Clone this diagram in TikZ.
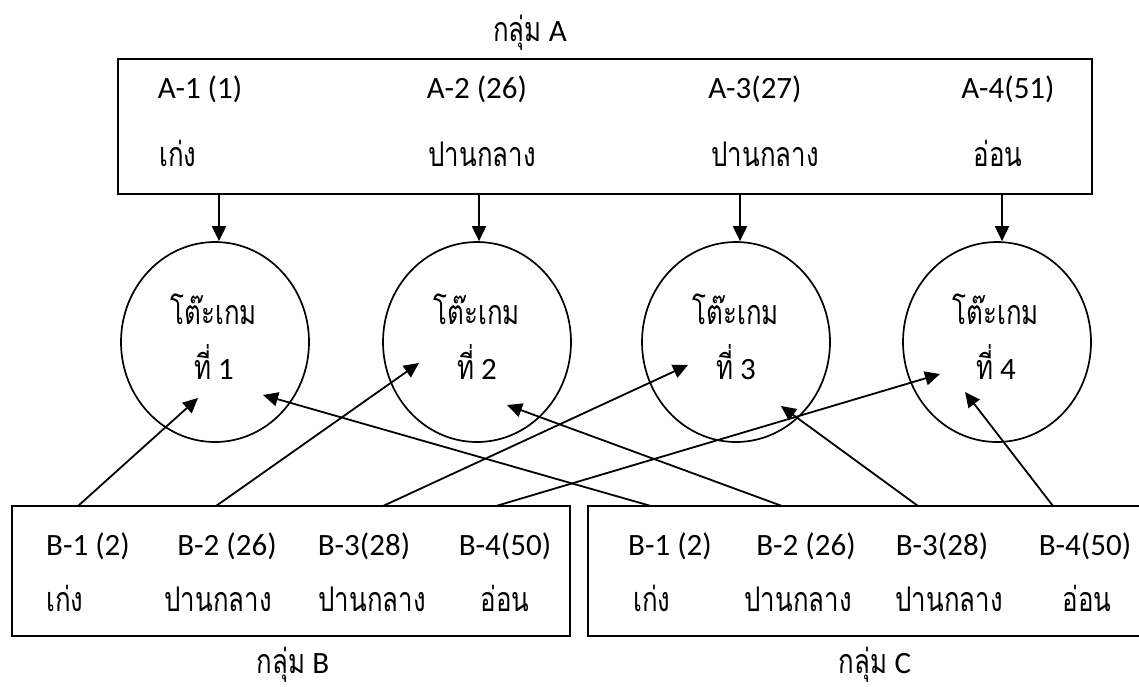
\documentclass[tikz,border=0pt]{standalone}
\usepackage{fontspec}
\setmainfont{Carlito}
\newfontfamily\thaifont[Script=Thai,FakeStretch=0.76]{Loma}
\usetikzlibrary{arrows.meta,shapes.geometric}

\newcommand\thaitext[1]{{\thaifont\fontsize{34}{38}\selectfont #1}}

\begin{document}
\begin{tikzpicture}[x=1pt,y=-1pt,
  lbl/.style={inner sep=0pt, anchor=base, font=\fontsize{31}{36}\selectfont},
  grpbox/.style={draw, line width=2pt},
  gametable/.style={draw, ellipse, line width=1.7pt, minimum width=188pt,
                    minimum height=200pt, inner sep=0pt},
  link/.style={line width=1.8pt, -{Triangle[length=15pt,width=14pt]}}
]
\useasboundingbox (0,0) rectangle (1139,686);

% group boxes
\node[grpbox, minimum width=974pt, minimum height=135pt, inner sep=0pt]
  (boxA) at (605,126.5) {};
\node[grpbox, minimum width=558pt, minimum height=130pt, inner sep=0pt]
  (boxB) at (291,571) {};
\node[grpbox, minimum width=562pt, minimum height=130pt, inner sep=0pt]
  (boxC) at (869,571) {};

% group titles
\node[lbl] (tA) at (530,41) {\thaitext{กลุ่ม} A};
\node[lbl] (tB) at (293,673) {\thaitext{กลุ่ม} B};
\node[lbl] (tC) at (875,673) {\thaitext{กลุ่ม} C};

% members of group A
\node[lbl] (a1) at (200,98) {A-1 (1)};
\node[lbl] (a1l) at (178,166) {\thaitext{เก่ง}};
\node[lbl] (a2) at (477,98) {A-2 (26)};
\node[lbl] (a2l) at (482,166) {\thaitext{ปานกลาง}};
\node[lbl] (a3) at (755,98) {A-3(27)};
\node[lbl] (a3l) at (765,166) {\thaitext{ปานกลาง}};
\node[lbl] (a4) at (1008,98) {A-4(51)};
\node[lbl] (a4l) at (998,166) {\thaitext{อ่อน}};

% members of group B
\node[lbl] (b1) at (88,555) {B-1 (2)};
\node[lbl] (b1l) at (65,611) {\thaitext{เก่ง}};
\node[lbl] (b2) at (227,555) {B-2 (26)};
\node[lbl] (b2l) at (218,611) {\thaitext{ปานกลาง}};
\node[lbl] (b3) at (364,555) {B-3(28)};
\node[lbl] (b3l) at (372,611) {\thaitext{ปานกลาง}};
\node[lbl] (b4) at (505,555) {B-4(50)};
\node[lbl] (b4l) at (505,611) {\thaitext{อ่อน}};

% members of group C
\node[lbl] (c1) at (670,555) {B-1 (2)};
\node[lbl] (c1l) at (652,611) {\thaitext{เก่ง}};
\node[lbl] (c2) at (806,555) {B-2 (26)};
\node[lbl] (c2l) at (798,611) {\thaitext{ปานกลาง}};
\node[lbl] (c3) at (942,555) {B-3(28)};
\node[lbl] (c3l) at (949,611) {\thaitext{ปานกลาง}};
\node[lbl] (c4) at (1085,555) {B-4(50)};
\node[lbl] (c4l) at (1087,611) {\thaitext{อ่อน}};

% game tables
\node[gametable] (g1) at (215,342) {};
\node[gametable] (g2) at (477,342) {};
\node[gametable] (g3) at (736,342) {};
\node[gametable] (g4) at (997,342) {};
\foreach \g/\x/\n in {g1/214/1, g2/477/2, g3/736/3, g4/996/4}{
  \node[lbl] (\g n) at (\x,324) {\thaitext{โต๊ะเกม}};
  \node[lbl] (\g k) at (\x,379) {\thaitext{ที่} \n};
}

% arrows from group A down to the tables
\foreach \g/\x in {g1/219, g2/479, g3/740, g4/1002}{
  \draw[link] (boxA.south -| \x,0) -- (\g.north -| \x,0);
}

% start points on the lower boxes and arrow tips inside the tables
\coordinate (sb1) at (78,506);
\coordinate (sb2) at (216,506);
\coordinate (sb3) at (383,506);
\coordinate (sb4) at (496,506);
\coordinate (sc1) at (651,506);
\coordinate (sc2) at (782,506);
\coordinate (sc3) at (918,506);
\coordinate (sc4) at (1053,506);
\coordinate (eb1) at (198,398);
\coordinate (eb2) at (419,363);
\coordinate (eb3) at (688,365);
\coordinate (eb4) at (940,374);
\coordinate (ec1) at (263,395);
\coordinate (ec2) at (507,405);
\coordinate (ec3) at (781,406);
\coordinate (ec4) at (965,392);

\foreach \i in {1,...,4}{
  \draw[link] (sb\i) -- (eb\i);
  \draw[link] (sc\i) -- (ec\i);
}
\end{tikzpicture}
\end{document}
